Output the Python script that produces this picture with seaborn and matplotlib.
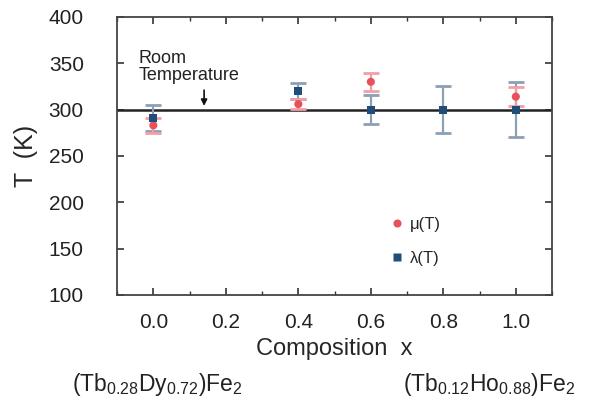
import matplotlib
matplotlib.use("Agg")
import matplotlib.pyplot as plt
import seaborn as sns
import numpy as np
import pandas as pd
from matplotlib.ticker import MultipleLocator

sns.set_style("ticks")
plt.rcParams['font.family'] = ['Liberation Sans', 'DejaVu Sans']
plt.rcParams['mathtext.default'] = 'regular'

# Data
comp_mu = [0.0, 0.4, 0.6, 1.0]
mu_T = [283, 306, 330, 314]
mu_err = [8, 5, 10, 10]

comp_lam = [0.0, 0.4, 0.6, 0.8, 1.0]
lam_T = [291, 320, 300, 300, 300]
lam_err = [14, 9, 16, 25, 30]

x_ticks = [0.0, 0.2, 0.4, 0.6, 0.8, 1.0]
y_ticks = [100, 150, 200, 250, 300, 350, 400]
room_T = 300

red = "#e8505a"
blue = "#1f4e7a"

df = pd.DataFrame({
    "x": comp_mu + comp_lam,
    "T": mu_T + lam_T,
    "series": ["μ(T)"] * len(comp_mu) + ["λ(T)"] * len(comp_lam),
})

fig = plt.figure(figsize=(6.10, 4.03), dpi=100)
ax = fig.add_axes([0.192, 0.268, 0.713, 0.690])

ax.axhline(room_T, color="#222222", lw=1.8, zorder=1)

ax.errorbar(comp_lam, lam_T, yerr=lam_err, fmt="none", ecolor="#8d9fb5",
            elinewidth=1.6, capsize=6, capthick=2.0, zorder=2)
ax.errorbar(comp_mu, mu_T, yerr=mu_err, fmt="none", ecolor="#f0a0a5",
            elinewidth=1.6, capsize=6, capthick=2.0, zorder=3)

sns.scatterplot(data=df, x="x", y="T", hue="series", style="series",
                palette={"μ(T)": red, "λ(T)": blue},
                markers={"μ(T)": "o", "λ(T)": "s"},
                s=34, edgecolor="none", ax=ax, zorder=4)

ax.set_xlim(-0.1, 1.1)
ax.set_ylim(100, 400)
ax.set_xticks(x_ticks)
ax.set_xticklabels([f"{v:.1f}" for v in x_ticks])
ax.set_yticks(y_ticks)
ax.xaxis.set_minor_locator(MultipleLocator(0.1))
ax.tick_params(axis="both", which="both", direction="in", top=True, right=True,
               colors="#333333", labelcolor="#222222")
ax.tick_params(axis="x", which="major", length=5, width=1.2, pad=13, labelsize=15)
ax.tick_params(axis="x", which="minor", length=3, width=1.0)
ax.tick_params(axis="y", which="major", length=5, width=1.2, pad=24, labelsize=15)
for s in ax.spines.values():
    s.set_color("#444444")
    s.set_linewidth(1.3)

ax.set_xlabel("Composition  x", fontsize=17, labelpad=4)
ax.set_ylabel("T  (K)", fontsize=18, labelpad=8)

leg = ax.legend(loc="upper left", bbox_to_anchor=(0.585, 0.335), frameon=False,
                fontsize=12, labelspacing=1.15, handletextpad=0.2,
                markerscale=1.0, handlelength=1.2)

ax.text(-0.04, 346, "Room\nTemperature", fontsize=13, ha="left", va="center",
        linespacing=1.0, color="#222222")
ax.annotate("", xy=(0.14, 301), xytext=(0.14, 324),
            arrowprops=dict(arrowstyle="-|>", color="#111111", lw=1.2,
                            mutation_scale=9))

fig.text(0.118, 0.045, r"(Tb$_{0.28}$Dy$_{0.72}$)Fe$_2$", fontsize=16.5,
         ha="left", va="center", color="#222222")
fig.text(0.66, 0.045, r"(Tb$_{0.12}$Ho$_{0.88}$)Fe$_2$", fontsize=16.5,
         ha="left", va="center", color="#222222")

fig.savefig("out.png", dpi=100)
